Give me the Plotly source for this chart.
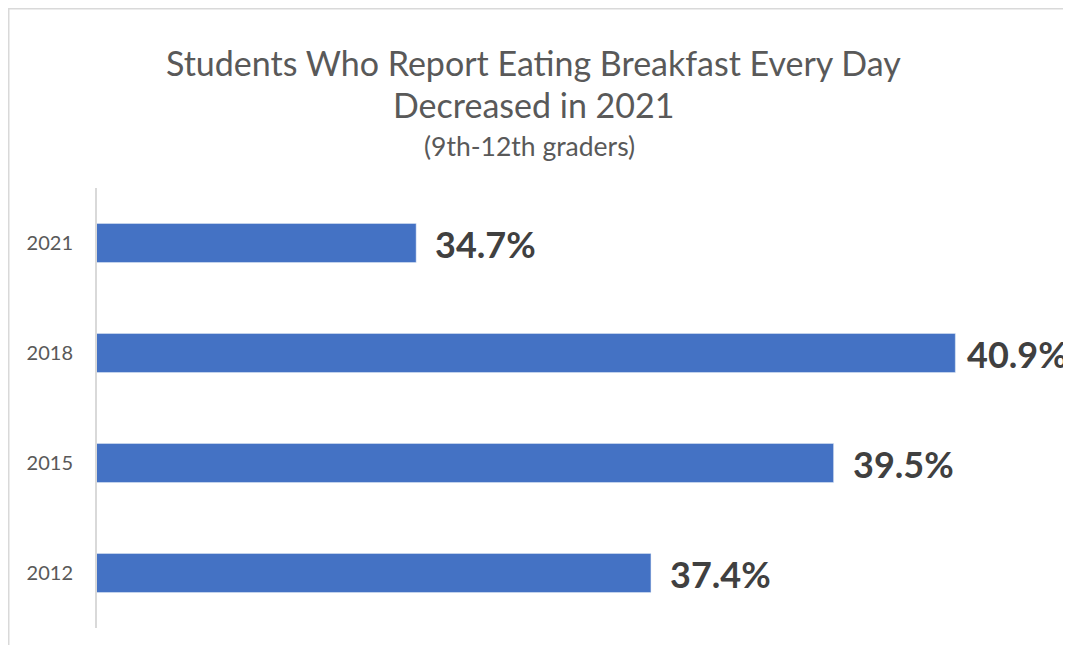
import plotly.graph_objects as go

years = ["2012", "2015", "2018", "2021"]
values = [37.4, 39.5, 40.9, 34.7]
labels = ["37.4%", "39.5%", "40.9%", "34.7%"]
title_line1 = "Students Who Report Eating Breakfast Every Day"
title_line2 = "Decreased in 2021"
subtitle = "(9th-12th graders)"

# label offsets (px) from bar end; the longest one is pulled in to fit the frame
label_shift = [17, 17, 10, 17]

FONT = "Lato"
OFF = 8  # default page margin of the html body
W, H = 1071 - OFF, 653 - 2 * OFF               # avoid a vertical scrollbar
FIG_RIGHT, FIG_BOTTOM = OFF + W, OFF + H       # page pixels
PLOT_LEFT, PLOT_RIGHT, PLOT_TOP, PLOT_BOTTOM = 97, 1051, 188, 628  # page pixels
L, R, T, B = PLOT_LEFT - OFF, FIG_RIGHT - PLOT_RIGHT, PLOT_TOP - OFF, FIG_BOTTOM - PLOT_BOTTOM
plot_h = PLOT_BOTTOM - PLOT_TOP
plot_w = PLOT_RIGHT - PLOT_LEFT

def py(p):  # page pixel -> paper y
    return (PLOT_BOTTOM - p) / plot_h

def px(p):  # page pixel -> paper x
    return (p - PLOT_LEFT) / plot_w

fig = go.Figure(go.Bar(
    x=values, y=years, orientation="h",
    width=0.355,
    marker=dict(color="#4472C4"),
))

annotations = []
for v, yv, lab, sh in zip(values, years, labels, label_shift):
    annotations.append(dict(
        x=v, y=years.index(yv), xref="x", yref="y", text="<b>" + lab + "</b>",
        showarrow=False, xanchor="left", yanchor="middle", xshift=sh, yshift=-1,
        font=dict(family=FONT, size=36, color="#404040"),
    ))

annotations += [
    dict(x=px(533), y=py(62), xref="paper", yref="paper", text=title_line1,
         showarrow=False, xanchor="center", yanchor="middle",
         font=dict(family=FONT, size=34, color="#595959")),
    dict(x=px(533), y=py(105), xref="paper", yref="paper", text=title_line2,
         showarrow=False, xanchor="center", yanchor="middle",
         font=dict(family=FONT, size=34, color="#595959")),
    dict(x=px(529), y=py(146), xref="paper", yref="paper", text=subtitle,
         showarrow=False, xanchor="center", yanchor="middle",
         font=dict(family=FONT, size=26.5, color="#595959")),
]

fig.update_layout(
    width=W, height=H, autosize=False,
    margin=dict(l=L, r=R, t=T, b=B, pad=0),
    paper_bgcolor="white", plot_bgcolor="white",
    showlegend=False,
    xaxis=dict(range=[31.03, 42.0], showgrid=False, showline=False, zeroline=False,
               showticklabels=False, ticks=""),
    yaxis=dict(type="category", categoryorder="array", categoryarray=years,
               range=[-0.5, 3.5], autorange=False,
               showline=True, linecolor="#d9d9d9", linewidth=2,
               showgrid=False, ticks="outside", ticklen=18, tickcolor="rgba(0,0,0,0)",
               tickfont=dict(family=FONT, size=20, color="#595959"),
               zeroline=False),
    annotations=annotations,
    shapes=[dict(type="rect", xref="paper", yref="paper",
                 x0=px(8.5), y0=py(700), x1=px(1100), y1=py(8.5),
                 line=dict(color="#d9d9d9", width=2))],
)

fig.write_html("out.html", config={"displayModeBar": False})
